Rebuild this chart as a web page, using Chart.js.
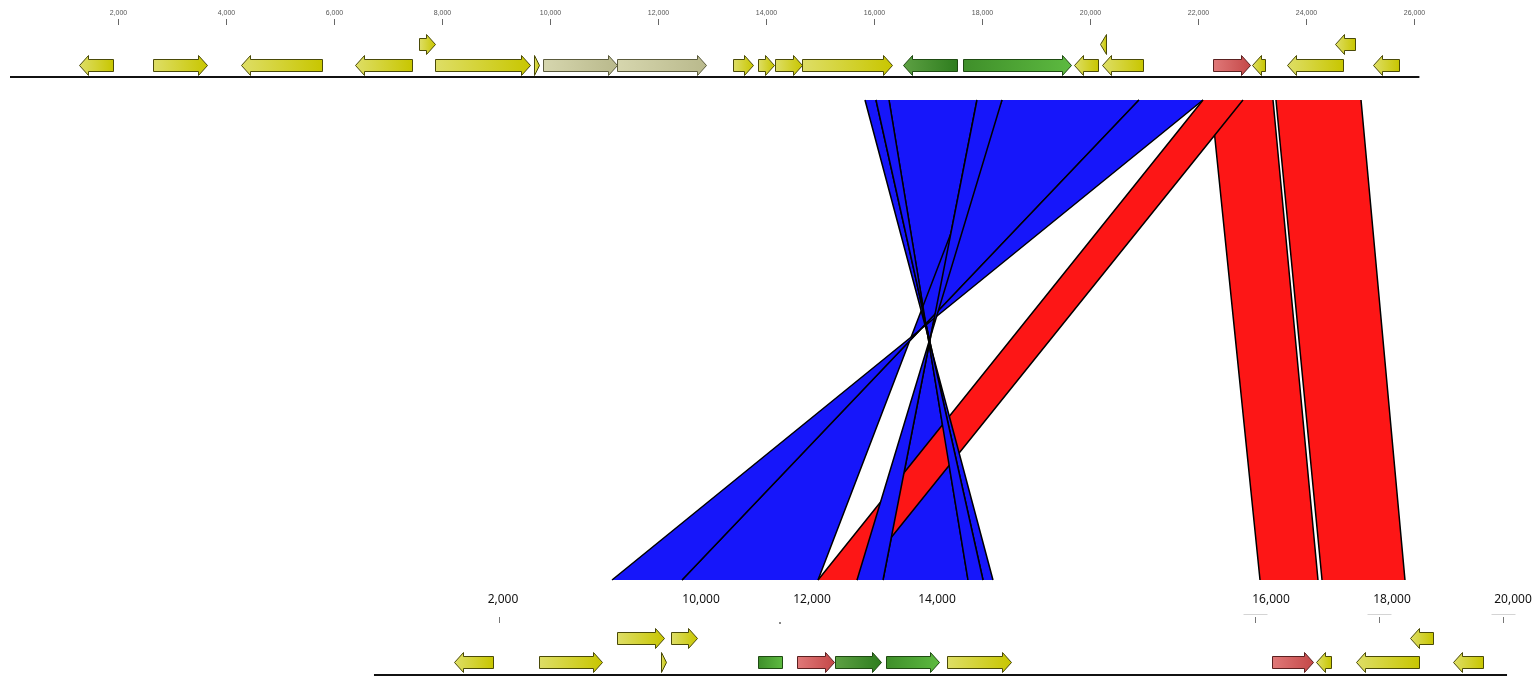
<!DOCTYPE html>
<html>
<head>
<meta charset="utf-8">
<script src="https://cdn.jsdelivr.net/npm/chart.js@4.4.1/dist/chart.umd.min.js"></script>
<style>
  html, body { margin: 0; padding: 0; background: #fff; }
  #wrap { width: 1540px; height: 684px; }
</style>
</head>
<body>
<div id="wrap"><canvas id="c"></canvas></div>
<script>
// ---- data (bp positions) ----
const topTickValues = [2000, 4000, 6000, 8000, 10000, 12000, 14000, 16000, 18000, 20000, 22000, 24000, 26000];
const topTrackSpan = [0, 26100];

// [start, end, strand, colour, row]
const topGenes = [
  [1278, 1907, -1, "y", 0],
  [2648, 3648, 1, "y", 0],
  [4278, 5778, -1, "y", 0],
  [6389, 7444, -1, "y", 0],
  [7574, 7870, 1, "y", 1],
  [7870, 9630, 1, "y", 0],
  [9704, 9796, 1, "y", 0],
  [9870, 11241, 1, "t", 0],
  [11241, 12889, 1, "t", 0],
  [13389, 13759, 1, "y", 0],
  [13852, 14148, 1, "y", 0],
  [14167, 14667, 1, "y", 0],
  [14667, 16333, 1, "y", 0],
  [16537, 17537, -1, "g", 0],
  [17648, 19648, 1, "l", 0],
  [19704, 20148, -1, "y", 0],
  [20185, 20296, -1, "y", 1],
  [20222, 20981, -1, "y", 0],
  [22278, 22963, 1, "r", 0],
  [23000, 23241, -1, "y", 0],
  [23648, 24685, -1, "y", 0],
  [24537, 24907, -1, "y", 1],
  [25241, 25722, -1, "y", 0],
];

const bottomTickValues = [3806, 16000, 18000, 20000];
const bottomLabels = ["2,000", "10,000", "12,000", "14,000", "16,000", "18,000", "20,000"];
const bottomLabelAt = [3871, 7065, 8855, 10871, 16258, 18210, 20161];
const bottomDotAt = [8323];
const bottomTrackSpan = [1790, 20065];

const bottomGenes = [
  [3081, 3710, -1, "y", 0],
  [4452, 5468, 1, "y", 0],
  [5710, 6468, 1, "y", 1],
  [6581, 7000, 1, "y", 1],
  [6419, 6500, 1, "y", 0],
  [7984, 8371, 0, "l", 0],
  [8613, 9210, 1, "r", 0],
  [9226, 9968, 1, "g", 0],
  [10048, 10903, 1, "l", 0],
  [11032, 12065, 1, "y", 0],
  [16274, 16935, 1, "r", 0],
  [16984, 17226, -1, "y", 0],
  [17629, 18645, -1, "y", 0],
  [18500, 18871, -1, "y", 1],
  [19194, 19677, -1, "y", 0],
];

// [topStart, topEnd, bottomStart, bottomEnd]
const invertedHitsBack = [
  [16278, 17907, 10000, 11371],
  [18370, 20907, 6758, 8952],
  [20907, 22093, 5629, 6758],
];
const directHits = [
  [22241, 23389, 16081, 17016],
  [23444, 25019, 17081, 18419],
  [22093, 22833, 8952, 9581],
];
const invertedHitsFront = [
  [15833, 16037, 11613, 11774],
  [16037, 16278, 11371, 11613],
  [17907, 18370, 9581, 10000],
];

// ---- layout / style ----
const L = {
  topLabelY: 13, topTick: [19, 25], topRows: [65, 44], topLine: 77,
  ribTop: 100, ribBot: 580,
  botLabelY: 600, botTick: [617, 623], botRows: [662, 638], botLine: 675,
};
const geneFill = {
  y: ["#dede66", "#c8c600", "#4a4a08"],
  t: ["#d6d6ae", "#b9b98c", "#5a5a3c"],
  g: ["#5da043", "#2e7d1e", "#1e4a12"],
  l: ["#3f8f2a", "#5dba40", "#1e4a12"],
  r: ["#e07878", "#c44848", "#5a2020"],
};
const BLUE = "#1616fa", RED = "#fd1616";

function fmt(v) { return v.toLocaleString("en-US"); }

function geneShape(ctx, x1, x2, yc, strand) {
  const bh = 12, hh = 20, headL = 9;
  const len = x2 - x1;
  ctx.beginPath();
  if (strand === 0) {
    ctx.rect(x1, yc - bh / 2, len, bh);
    return;
  }
  if (len <= headL) {
    if (strand > 0) {
      ctx.moveTo(x1, yc - hh / 2); ctx.lineTo(x2, yc); ctx.lineTo(x1, yc + hh / 2);
    } else {
      ctx.moveTo(x2, yc - hh / 2); ctx.lineTo(x1, yc); ctx.lineTo(x2, yc + hh / 2);
    }
    ctx.closePath();
    return;
  }
  if (strand > 0) {
    const b = x2 - headL;
    ctx.moveTo(x1, yc - bh / 2); ctx.lineTo(b, yc - bh / 2); ctx.lineTo(b, yc - hh / 2);
    ctx.lineTo(x2, yc); ctx.lineTo(b, yc + hh / 2); ctx.lineTo(b, yc + bh / 2);
    ctx.lineTo(x1, yc + bh / 2);
  } else {
    const b = x1 + headL;
    ctx.moveTo(x2, yc - bh / 2); ctx.lineTo(b, yc - bh / 2); ctx.lineTo(b, yc - hh / 2);
    ctx.lineTo(x1, yc); ctx.lineTo(b, yc + hh / 2); ctx.lineTo(b, yc + bh / 2);
    ctx.lineTo(x2, yc + bh / 2);
  }
  ctx.closePath();
}

function drawGenes(ctx, genes, xs, ys, rows) {
  genes.forEach(([s, e, strand, col, row]) => {
    const x1 = Math.round(xs.getPixelForValue(s)) + 0.5;
    const x2 = Math.round(xs.getPixelForValue(e)) + 0.5;
    const yc = Math.round(ys.getPixelForValue(rows[row])) + 0.5;
    const c = geneFill[col];
    const grad = ctx.createLinearGradient(x1, 0, x2, 0);
    grad.addColorStop(0, c[0]);
    grad.addColorStop(1, c[1]);
    geneShape(ctx, x1, x2, yc, strand);
    ctx.fillStyle = grad;
    ctx.fill();
    ctx.lineWidth = 1;
    ctx.strokeStyle = c[2];
    ctx.stroke();
  });
}

function drawRibbons(ctx, hits, inverted, color, xt, xb, ys) {
  const yT = ys.getPixelForValue(L.ribTop);
  const yB = ys.getPixelForValue(L.ribBot);
  hits.forEach(([a1, a2, b1, b2]) => {
    const ta = xt.getPixelForValue(a1), tb = xt.getPixelForValue(a2);
    const ba = xb.getPixelForValue(b1), bb = xb.getPixelForValue(b2);
    ctx.beginPath();
    ctx.moveTo(ta, yT);
    ctx.lineTo(tb, yT);
    if (inverted) { ctx.lineTo(ba, yB); ctx.lineTo(bb, yB); }
    else { ctx.lineTo(bb, yB); ctx.lineTo(ba, yB); }
    ctx.closePath();
    ctx.fillStyle = color;
    ctx.fill();
    ctx.lineWidth = 1.5;
    ctx.strokeStyle = "#000";
    ctx.beginPath();
    if (inverted) {
      ctx.moveTo(tb, yT); ctx.lineTo(ba, yB);
      ctx.moveTo(ta, yT); ctx.lineTo(bb, yB);
    } else {
      ctx.moveTo(ta, yT); ctx.lineTo(ba, yB);
      ctx.moveTo(tb, yT); ctx.lineTo(bb, yB);
    }
    ctx.stroke();
  });
}

const trackPlugin = {
  id: "tracks",
  beforeDatasetsDraw(chart) {
    const ctx = chart.ctx;
    const xt = chart.scales.xTop, xb = chart.scales.xBot, ys = chart.scales.y;
    ctx.save();
    drawRibbons(ctx, invertedHitsBack, true, BLUE, xt, xb, ys);
    drawRibbons(ctx, directHits, false, RED, xt, xb, ys);
    drawRibbons(ctx, invertedHitsFront, true, BLUE, xt, xb, ys);

    // top ruler
    ctx.fillStyle = "#555";
    ctx.strokeStyle = "#666";
    ctx.lineWidth = 1;
    ctx.font = "7px 'Liberation Sans', Arial, sans-serif";
    ctx.textAlign = "center";
    ctx.textBaseline = "middle";
    topTickValues.forEach((v) => {
      const x = Math.round(xt.getPixelForValue(v)) + 0.5;
      ctx.fillText(fmt(v), x, ys.getPixelForValue(L.topLabelY));
      ctx.beginPath();
      ctx.moveTo(x, ys.getPixelForValue(L.topTick[0]));
      ctx.lineTo(x, ys.getPixelForValue(L.topTick[1]));
      ctx.stroke();
    });

    // bottom ruler
    ctx.fillStyle = "#111";
    ctx.font = "12px 'Noto Sans', 'Open Sans', sans-serif";
    bottomLabels.forEach((t, i) => {
      ctx.fillText(t, xb.getPixelForValue(bottomLabelAt[i]), ys.getPixelForValue(L.botLabelY));
    });
    ctx.strokeStyle = "#777";
    bottomTickValues.forEach((v, i) => {
      const x = Math.round(xb.getPixelForValue(v)) + 0.5;
      ctx.beginPath();
      ctx.moveTo(x, ys.getPixelForValue(L.botTick[0]));
      ctx.lineTo(x, ys.getPixelForValue(L.botTick[1]));
      ctx.stroke();
      if (i > 0) {
        ctx.strokeStyle = "#d4d4d4";
        ctx.beginPath();
        ctx.moveTo(x - 12, ys.getPixelForValue(L.botTick[0] - 3) + 0.5);
        ctx.lineTo(x + 12, ys.getPixelForValue(L.botTick[0] - 3) + 0.5);
        ctx.stroke();
        ctx.strokeStyle = "#777";
      }
    });
    ctx.fillStyle = "#888";
    bottomDotAt.forEach((v) => {
      ctx.fillRect(Math.round(xb.getPixelForValue(v)), ys.getPixelForValue(L.botTick[1]) - 1, 2, 2);
    });

    drawGenes(ctx, topGenes, xt, ys, L.topRows);
    drawGenes(ctx, bottomGenes, xb, ys, L.botRows);
    ctx.restore();
  },
};

function init() {
  // px per bp: top 0.054 (bp 0 at x=10), bottom 0.062 (bp 0 at x=263)
  const topMin = -10 / 0.054, botMin = -263 / 0.062;
  new Chart(document.getElementById("c"), {
    type: "line",
    data: {
      datasets: [
        {
          data: topTrackSpan.map((x) => ({ x, y: L.topLine })),
          xAxisID: "xTop", yAxisID: "y",
          borderColor: "#111", borderWidth: 2, pointRadius: 0,
        },
        {
          data: bottomTrackSpan.map((x) => ({ x, y: L.botLine })),
          xAxisID: "xBot", yAxisID: "y",
          borderColor: "#111", borderWidth: 2, pointRadius: 0,
        },
      ],
    },
    options: {
      responsive: true,
      maintainAspectRatio: false,
      animation: false,
      layout: { padding: 0 },
      plugins: { legend: { display: false }, tooltip: { enabled: false } },
      scales: {
        xTop: { type: "linear", display: false, min: topMin, max: topMin + 1540 / 0.054 },
        xBot: { type: "linear", display: false, min: botMin, max: botMin + 1540 / 0.062 },
        y: { type: "linear", display: false, reverse: true, min: 0, max: 684 },
      },
    },
    plugins: [trackPlugin],
  });
}

document.addEventListener("DOMContentLoaded", init);
</script>
</body>
</html>
